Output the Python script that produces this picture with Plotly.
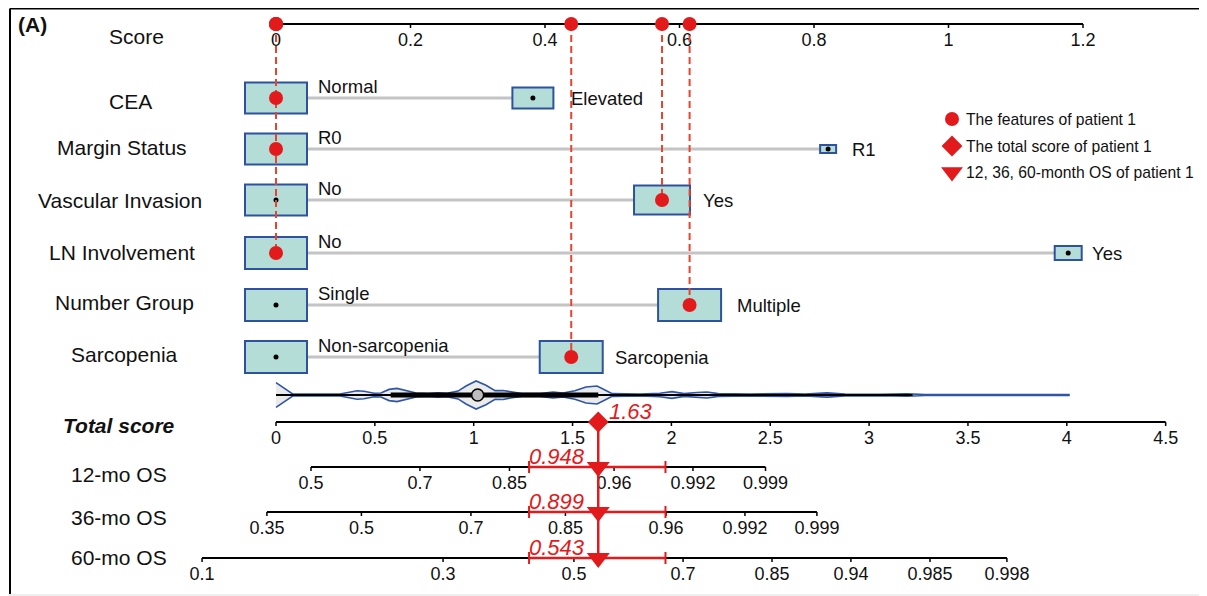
import plotly.graph_objects as go

# ---------------- data ----------------
score_ticks = [0, 0.2, 0.4, 0.6, 0.8, 1, 1.2]
score_tick_labels = ["0", "0.2", "0.4", "0.6", "0.8", "1", "1.2"]

factor_names = ["CEA", "Margin Status", "Vascular Invasion", "LN Involvement",
                "Number Group", "Sarcopenia"]
level_names = [["Normal", "Elevated"], ["R0", "R1"], ["No", "Yes"], ["No", "Yes"],
               ["Single", "Multiple"], ["Non-sarcopenia", "Sarcopenia"]]
level_points = [[0, 0.382], [0, 0.821], [0, 0.574], [0, 1.178], [0, 0.615], [0, 0.439]]
patient_level = [0, 0, 1, 0, 1, 1]

total_ticks = [0, 0.5, 1, 1.5, 2, 2.5, 3, 3.5, 4, 4.5]
total_tick_labels = ["0", "0.5", "1", "1.5", "2", "2.5", "3", "3.5", "4", "4.5"]

# distribution of total scores (violin), relative density
violin_x = [0.000, 0.086, 0.324, 0.374, 0.410, 0.445, 0.496, 0.531, 0.572, 0.612,
            0.658, 0.708, 0.769, 0.819, 0.865, 0.921, 0.961, 1.012, 1.062, 1.108,
            1.148, 1.194, 1.244, 1.335, 1.401, 1.452, 1.512, 1.568, 1.624, 1.664,
            1.700, 1.841, 1.942, 2.003, 2.064, 2.129, 2.180, 2.236, 2.398, 2.585,
            2.676, 2.787, 2.878, 3.055, 3.192, 3.283, 4.011]
violin_density = [0.89, 0.06, 0.07, 0.21, 0.30, 0.27, 0.12, 0.14, 0.40, 0.47,
                  0.29, 0.14, 0.11, 0.16, 0.13, 0.28, 0.64, 1.00, 0.70, 0.31,
                  0.32, 0.20, 0.10, 0.10, 0.21, 0.14, 0.30, 0.57, 0.64, 0.36,
                  0.10, 0.07, 0.12, 0.24, 0.10, 0.18, 0.21, 0.10, 0.07, 0.11,
                  0.07, 0.15, 0.07, 0.05, 0.09, 0.03, 0.03]
violin_whisker = [0, 3.22]
violin_iqr = [0.58, 1.63]
violin_median = 1.02

os_names = ["12-mo OS", "36-mo OS", "60-mo OS"]
os_tick_labels = [["0.5", "0.7", "0.85", "0.96", "0.992", "0.999"],
                  ["0.35", "0.5", "0.7", "0.85", "0.96", "0.992", "0.999"],
                  ["0.1", "0.3", "0.5", "0.7", "0.85", "0.94", "0.985", "0.998"]]
# positions of the OS ticks on the total-score scale
os_tick_pos = [[0.177, 0.728, 1.181, 1.710, 2.109, 2.476],
               [-0.046, 0.432, 0.986, 1.464, 1.973, 2.372, 2.736],
               [-0.374, 0.845, 1.507, 2.059, 2.509, 2.908, 3.308, 3.697]]

patient_total = 1.63
patient_os = ["0.948", "0.899", "0.543"]
patient_ci = [1.28, 1.97]

legend_labels = ["The features of patient 1", "The total score of patient 1",
                 "12, 36, 60-month OS of patient 1"]

# ---------------- layout / style ----------------
W, H = 1207, 596     # window
OFF = 8              # page body margin
X0 = 276             # window pixel of zero on score/total scales
PX_SCORE = 672.5     # pixels per score unit
PX_TOTAL = 197.7     # pixels per total-score unit

FONT = "Liberation Sans, Arial, sans-serif"
RED = "#e31a1c"
RED_DASH = "#e8432f"
BOX_FILL = "#b3ddd6"
BOX_LINE = "#2f52a0"
GREY = "#c4c4c4"
TXT = "#111111"

Y_SCORE = 24
Y_FACTOR = [98, 149, 200, 253, 305, 357]
Y_VIOLIN = 395
Y_TOTAL = 422
Y_OS = [467, 512, 558]
TICK_LEN = 4
TICK_LABEL_DY = 17
TICK_FONT = 18
ROW_FONT = 21
LEVEL_FONT = 18.5

BOX_PX = [[(62, 31), (41, 21)], [(62, 31), (16, 8)], [(62, 31), (56, 29)],
          [(62, 32), (27, 14)], [(62, 32), (63, 32)], [(62, 32), (63, 32)]]
RIGHT_LABEL_SHIFT = [36, 22, 39, 21.5, 45.5, 41.5]
LEFT_LABEL_SHIFT = 40
VIOLIN_HALF = 14

LEFT_X = {"Score": 136, "CEA": 130, "Margin Status": 122, "Vascular Invasion": 120,
          "LN Involvement": 121.5, "Number Group": 124, "Sarcopenia": 124.5}
LEFT_Y = {"Score": 36, "CEA": 101, "Margin Status": 147.5, "Vascular Invasion": 200,
          "LN Involvement": 252, "Number Group": 302.5, "Sarcopenia": 354.5}
OS_LABEL_X = [119, 118.5, 118.5]
OS_LABEL_Y = [474, 517, 557.5]

fig = go.Figure()


def line(xs, ys, axis="x", color="black", width=2, dash=None):
    fig.add_trace(go.Scatter(x=xs, y=ys, mode="lines", xaxis=axis, yaxis="y",
                             line=dict(color=color, width=width, dash=dash),
                             hoverinfo="skip", showlegend=False))


def texts(xs, ys, labels, axis="x", size=TICK_FONT, color=TXT):
    fig.add_trace(go.Scatter(x=xs, y=ys, mode="text", text=labels, xaxis=axis, yaxis="y",
                             textposition="middle center", cliponaxis=False,
                             textfont=dict(family=FONT, size=size, color=color),
                             hoverinfo="skip", showlegend=False))


def axis_with_ticks(pos, labels, y, axis):
    line([pos[0], pos[-1]], [y, y], axis=axis, width=2)
    tx, ty = [], []
    for p in pos:
        tx += [p, p, None]
        ty += [y, y + TICK_LEN, None]
    line(tx, ty, axis=axis, width=1.5)
    texts(pos, [y + TICK_LABEL_DY] * len(pos), labels, axis=axis)


shapes = []
annotations = []

# ---- Score axis ----
axis_with_ticks(score_ticks, score_tick_labels, Y_SCORE, "x")

# ---- factor rows ----
for i, name in enumerate(factor_names):
    y = Y_FACTOR[i]
    pts = level_points[i]
    shapes.append(dict(type="line", xref="x", yref="y", x0=pts[0], x1=pts[1], y0=y, y1=y,
                       line=dict(color=GREY, width=3), layer="below"))
    for j, p in enumerate(pts):
        w, h = BOX_PX[i][j]
        shapes.append(dict(type="rect", xref="x", yref="y", xsizemode="pixel", xanchor=p,
                           x0=-w / 2, x1=w / 2, y0=y - h / 2, y1=y + h / 2,
                           fillcolor=BOX_FILL, line=dict(color=BOX_LINE, width=2),
                           layer="below"))
    annotations.append(dict(x=pts[0], y=y - 11.5, xref="x", yref="y", text=level_names[i][0],
                            xanchor="left", yanchor="middle", xshift=LEFT_LABEL_SHIFT,
                            showarrow=False, font=dict(family=FONT, size=LEVEL_FONT, color=TXT)))
    annotations.append(dict(x=pts[1], y=y, xref="x", yref="y", text=level_names[i][1],
                            xanchor="left", yanchor="middle", xshift=RIGHT_LABEL_SHIFT[i],
                            showarrow=False, font=dict(family=FONT, size=LEVEL_FONT, color=TXT)))
    fig.add_trace(go.Scatter(x=pts, y=[y, y], mode="markers", xaxis="x", yaxis="y",
                             marker=dict(size=5, color="black"),
                             hoverinfo="skip", showlegend=False))
    annotations.append(dict(x=LEFT_X[name], y=LEFT_Y[name], xref="x3", yref="y", text=name,
                            xanchor="center", yanchor="middle", showarrow=False,
                            font=dict(family=FONT, size=ROW_FONT, color=TXT)))

annotations.append(dict(x=LEFT_X["Score"], y=LEFT_Y["Score"], xref="x3", yref="y", text="Score",
                        xanchor="center", yanchor="middle", showarrow=False,
                        font=dict(family=FONT, size=ROW_FONT, color=TXT)))

# ---- patient projections (dashed) ----
for i in range(len(factor_names)):
    p = level_points[i][patient_level[i]]
    line([p, p], [Y_SCORE, Y_FACTOR[i]], axis="x", color=RED_DASH, width=2, dash="7px,4px")
for i in range(len(factor_names)):
    p = level_points[i][patient_level[i]]
    fig.add_trace(go.Scatter(x=[p, p], y=[Y_SCORE, Y_FACTOR[i]], mode="markers",
                             xaxis="x", yaxis="y", marker=dict(size=14, color=RED),
                             cliponaxis=False, hoverinfo="skip", showlegend=False))

# ---- violin of total score ----
up = [Y_VIOLIN - d * VIOLIN_HALF for d in violin_density]
lo = [Y_VIOLIN + d * VIOLIN_HALF for d in violin_density]
fig.add_trace(go.Scatter(x=violin_x + violin_x[::-1], y=up + lo[::-1], mode="lines",
                         fill="toself", fillcolor="#ebebeb", xaxis="x2", yaxis="y",
                         line=dict(color="#2f55a4", width=1.6),
                         hoverinfo="skip", showlegend=False))
line(violin_whisker, [Y_VIOLIN] * 2, axis="x2", width=2)
line(violin_iqr, [Y_VIOLIN] * 2, axis="x2", width=5)
fig.add_trace(go.Scatter(x=[violin_median], y=[Y_VIOLIN], mode="markers", xaxis="x2", yaxis="y",
                         marker=dict(size=12, color="#bdbdbd", line=dict(color="black", width=1.5)),
                         hoverinfo="skip", showlegend=False))

# ---- total score axis ----
axis_with_ticks(total_ticks, total_tick_labels, Y_TOTAL, "x2")
annotations.append(dict(x=119, y=425.5, xref="x3", yref="y", text="<b><i>Total score</i></b>",
                        xanchor="center", yanchor="middle", showarrow=False,
                        font=dict(family=FONT, size=ROW_FONT, color=TXT)))

# ---- OS axes ----
for k in range(3):
    axis_with_ticks(os_tick_pos[k], os_tick_labels[k], Y_OS[k], "x2")
    annotations.append(dict(x=OS_LABEL_X[k], y=OS_LABEL_Y[k], xref="x3", yref="y",
                            text=os_names[k], xanchor="center", yanchor="middle",
                            showarrow=False, font=dict(family=FONT, size=ROW_FONT, color=TXT)))

# ---- patient total score & OS ----
line([patient_total, patient_total], [Y_TOTAL, Y_OS[-1]], axis="x2", color=RED, width=2.5)
for k in range(3):
    y = Y_OS[k]
    line(patient_ci, [y, y], axis="x2", color=RED, width=2.5)
    line([patient_ci[0], patient_ci[0], None, patient_ci[1], patient_ci[1]],
         [y - 6, y + 6, None, y - 6, y + 6], axis="x2", color=RED, width=2)
    annotations.append(dict(x=patient_ci[0], y=y - 10.5, xref="x2", yref="y",
                            text="<i>%s</i>" % patient_os[k], xanchor="left", yanchor="middle",
                            xshift=-2, showarrow=False,
                            font=dict(family=FONT, size=22, color=RED)))
fig.add_trace(go.Scatter(x=[patient_total] * 3, y=Y_OS, mode="markers", xaxis="x2", yaxis="y",
                         marker=dict(symbol="triangle-down", size=20, color=RED),
                         hoverinfo="skip", showlegend=False))
fig.add_trace(go.Scatter(x=[patient_total], y=[Y_TOTAL], mode="markers", xaxis="x2", yaxis="y",
                         marker=dict(symbol="diamond", size=16, color=RED),
                         hoverinfo="skip", showlegend=False))
annotations.append(dict(x=patient_total, y=411.5, xref="x2", yref="y",
                        text="<i>%.2f</i>" % patient_total, xanchor="left", yanchor="middle",
                        xshift=9, showarrow=False, font=dict(family=FONT, size=22, color=RED)))

# ---- legend (drawn) ----
LEG_X, LEG_Y = 952, [119, 146, 172]
for sym, sz, yy, lab in zip(["circle", "diamond", "triangle-down"], [14, 16, 19], LEG_Y,
                            legend_labels):
    fig.add_trace(go.Scatter(x=[LEG_X], y=[yy], mode="markers", xaxis="x3", yaxis="y",
                             marker=dict(symbol=sym, size=sz, color=RED),
                             hoverinfo="skip", showlegend=False))
    annotations.append(dict(x=LEG_X + 12, y=yy, xref="x3", yref="y", text=lab,
                            xanchor="left", yanchor="middle", showarrow=False,
                            font=dict(family=FONT, size=15.7, color=TXT)))

# ---- panel label & frame ----
annotations.append(dict(x=16, y=24, xref="x3", yref="y", text="<b>(A)</b>", xanchor="left",
                        yanchor="middle", showarrow=False,
                        font=dict(family=FONT, size=21, color=TXT)))
shapes.append(dict(type="line", xref="x3", yref="y", x0=10, x1=W, y0=8.5, y1=8.5,
                   line=dict(color="black", width=2)))
shapes.append(dict(type="line", xref="x3", yref="y", x0=10, x1=10, y0=8.5, y1=594,
                   line=dict(color="black", width=2)))
shapes.append(dict(type="rect", xref="x3", yref="y", x0=OFF, x1=W, y0=594, y1=H,
                   fillcolor="#eeeeee", line=dict(width=0)))

fig.update_layout(
    width=W - OFF, height=H - OFF, margin=dict(l=0, r=0, t=0, b=0),
    paper_bgcolor="white", plot_bgcolor="white", showlegend=False,
    xaxis=dict(range=[(OFF - X0) / PX_SCORE, (W - X0) / PX_SCORE], visible=False,
               fixedrange=True),
    xaxis2=dict(range=[(OFF - X0) / PX_TOTAL, (W - X0) / PX_TOTAL], overlaying="x",
                visible=False, fixedrange=True),
    xaxis3=dict(range=[OFF, W], overlaying="x", visible=False, fixedrange=True),
    yaxis=dict(range=[H, OFF], visible=False, fixedrange=True),
    shapes=shapes, annotations=annotations,
)

fig.write_html("out.html")
